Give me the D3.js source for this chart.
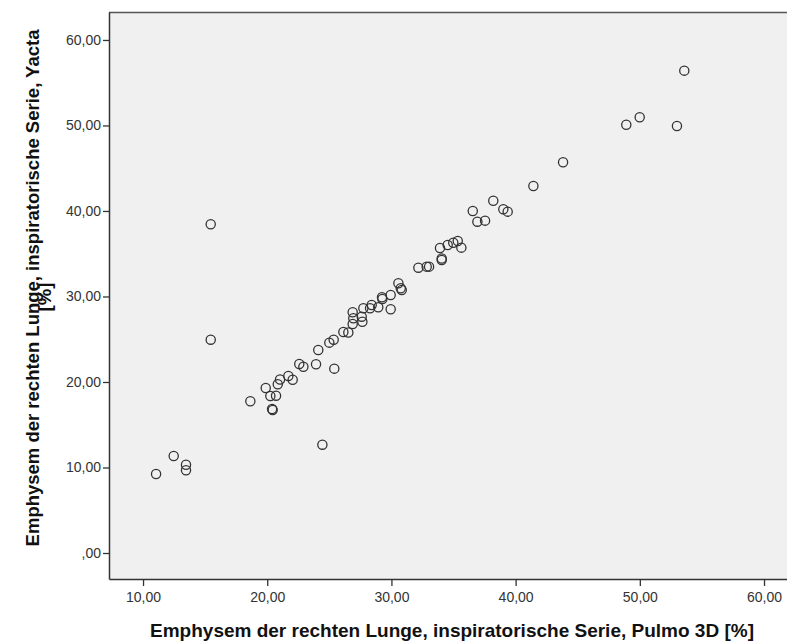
<!DOCTYPE html>
<html>
<head>
<meta charset="utf-8">
<script src="https://cdn.jsdelivr.net/npm/d3@7"></script>
<style>
  body { margin: 0; background: #fff; }
  svg { display: block; font-family: "Liberation Sans", Arial, sans-serif; }
</style>
</head>
<body>
<div id="chart"></div>
<script>
// Streudiagramm: Pulmo 3D vs. Yacta (rechte Lunge, inspiratorisch)

// Daten
const pulmo = [
    11.05, 12.47, 13.46, 13.46, 15.45, 15.45, 18.64, 19.88, 20.25, 20.71,
    20.39, 20.44, 20.85, 21.03, 21.70, 22.05, 22.58, 22.91, 23.93, 24.11,
    24.44, 25.00, 25.35, 25.40, 26.13, 26.53, 26.88, 26.93, 26.88, 27.61,
    27.66, 27.74, 28.28, 28.41, 28.94, 29.94, 29.24, 29.27, 29.94, 30.56,
    30.75, 30.83, 32.17, 32.84, 33.03, 34.05, 34.05, 33.91, 34.53, 34.98,
    35.34, 35.63, 36.55, 36.92, 37.54, 38.20, 39.01, 39.36, 41.43, 43.82,
    48.91, 49.99, 52.99, 53.58
];
const yacta = [
     9.24, 11.35, 10.33,  9.67, 38.45, 24.95, 17.74, 19.30, 18.36, 18.40,
    16.84, 16.73, 19.73, 20.29, 20.70, 20.27, 22.11, 21.79, 22.07, 23.74,
    12.67, 24.60, 24.95, 21.56, 25.85, 25.79, 28.15, 27.45, 26.78, 27.64,
    27.05, 28.62, 28.62, 29.01, 28.74, 28.50, 29.91, 29.71, 30.18, 31.54,
    30.96, 30.76, 33.37, 33.49, 33.49, 34.44, 34.27, 35.67, 36.02, 36.29,
    36.49, 35.71, 40.00, 38.75, 38.87, 41.20, 40.20, 39.92, 42.92, 45.70,
    50.09, 50.96, 49.94, 56.41
];

// Achsenbeschriftungen
const xTicks = [10, 20, 30, 40, 50, 60];
const xTickLabels = ["10,00", "20,00", "30,00", "40,00", "50,00", "60,00"];
const yTicks = [0, 10, 20, 30, 40, 50, 60];
const yTickLabels = [",00", "10,00", "20,00", "30,00", "40,00", "50,00", "60,00"];

const xTitle = "Emphysem der rechten Lunge, inspiratorische Serie, Pulmo 3D [%]";
const yTitle = ["Emphysem der rechten Lunge, inspiratorische Serie, Yacta", "[%]"];

// Maße
const width = 787;
const height = 642;
const margin = { top: 12, right: 0, bottom: 63, left: 109 };
const plotW = width - margin.left - margin.right;
const plotH = height - margin.top - margin.bottom;

const svg = d3.select("#chart").append("svg")
    .attr("width", width)
    .attr("height", height);

const x = d3.scaleLinear().domain([7.26, 61.85]).range([0, plotW]);
const y = d3.scaleLinear().domain([-3.04, 63.27]).range([plotH, 0]);

const g = svg.append("g")
    .attr("transform", `translate(${margin.left},${margin.top})`);

// Hintergrund
g.append("rect")
    .attr("width", plotW)
    .attr("height", plotH)
    .attr("fill", "#f0f0f0");

// obere Rahmenlinie
g.append("line")
    .attr("x1", 0).attr("x2", plotW)
    .attr("y1", 0.5).attr("y2", 0.5)
    .attr("stroke", "#555")
    .attr("stroke-width", 1.5);

// Achsen
const xAxis = g.append("g")
    .attr("transform", `translate(0,${plotH})`)
    .call(d3.axisBottom(x).tickValues(xTicks).tickSize(7).tickSizeOuter(0)
        .tickFormat((d, i) => xTickLabels[i]));

const yAxis = g.append("g")
    .call(d3.axisLeft(y).tickValues(yTicks).tickSize(6).tickSizeOuter(0)
        .tickFormat((d, i) => yTickLabels[i]));

[xAxis, yAxis].forEach(a => {
    a.select(".domain").attr("stroke", "#333").attr("stroke-width", 1.5);
    a.selectAll(".tick line").attr("stroke", "#333").attr("stroke-width", 1.3);
    a.selectAll(".tick text")
        .attr("fill", "#333")
        .style("font-size", "14px")
        .style("font-family", "'Liberation Sans', Arial, sans-serif");
});
xAxis.selectAll(".tick text").attr("y", 10).attr("dy", "0.9em");
yAxis.selectAll(".tick text").attr("x", -8);

// Punkte
g.selectAll("circle.pt")
    .data(pulmo.map((d, i) => [d, yacta[i]]))
    .enter()
    .append("circle")
    .attr("class", "pt")
    .attr("cx", d => x(d[0]))
    .attr("cy", d => y(d[1]))
    .attr("r", 4.6)
    .attr("fill", "none")
    .attr("stroke", "#333")
    .attr("stroke-width", 1.3);

// Achsentitel
svg.append("text")
    .attr("x", 452)
    .attr("y", 637)
    .attr("text-anchor", "middle")
    .attr("font-weight", "bold")
    .attr("font-size", "19px")
    .attr("fill", "#111")
    .text(xTitle);

const yt = svg.append("text")
    .attr("transform", `translate(39,288) rotate(-90)`)
    .attr("text-anchor", "middle")
    .attr("font-weight", "bold")
    .attr("font-size", "18.5px")
    .attr("fill", "#111");
yt.selectAll("tspan")
    .data(yTitle)
    .enter()
    .append("tspan")
    .attr("x", (d, i) => i === 0 ? 0 : -9)
    .attr("dy", (d, i) => i === 0 ? 0 : 12)
    .text(d => d);
</script>
</body>
</html>
